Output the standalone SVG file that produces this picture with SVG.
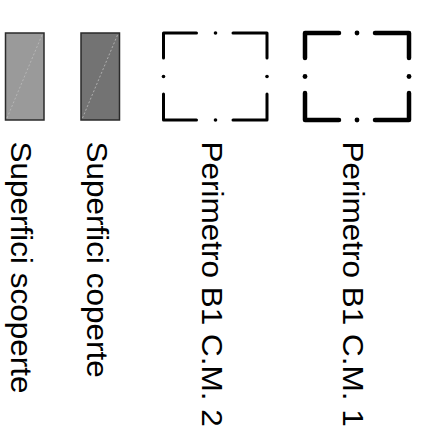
<svg xmlns="http://www.w3.org/2000/svg" width="425" height="433" viewBox="0 0 425 433">
<style>
.sw{stroke:#2a2a2a;stroke-width:1.5}
.diag{stroke:#bdbdbd;stroke-width:0.8;stroke-dasharray:2 2;fill:none}
.per{fill:none;stroke:#000;stroke-linecap:round;stroke-linejoin:round}
.lbl{font-family:"Liberation Sans",Arial,sans-serif;font-size:30px;fill:#000}
</style>
<rect width="425" height="433" fill="#fff"/>
<g id="legend-scoperte">
<rect class="sw" x="5.5" y="33" width="38.5" height="87" fill="#9a9a9a"/>
<line class="diag" x1="7" y1="118" x2="42" y2="35"/>
<text class="lbl" transform="translate(11,141.5) rotate(90) scale(1.05,1)">Superfici scoperte</text>
</g>
<g id="legend-coperte">
<rect class="sw" x="81" y="33" width="38.5" height="87" fill="#737373"/>
<line class="diag" x1="82.5" y1="118" x2="117.5" y2="35"/>
<text class="lbl" transform="translate(87,141.5) rotate(90) scale(1.05,1)">Superfici coperte</text>
</g>
<g id="legend-perimetro2">
<path class="per" stroke-width="3" d="M163.5 58V33H196.5M233 33H267V58M163.5 94V120H196.5M233 120H267V94"/>
<g fill="#000"><circle cx="215.5" cy="33" r="1.8"/><circle cx="215.5" cy="120" r="1.8"/><circle cx="163.5" cy="76.5" r="1.8"/><circle cx="267" cy="76.5" r="1.8"/></g>
<text class="lbl" transform="translate(202,141.5) rotate(90) scale(1.05,1)">Perimetro B1 C.M. 2</text>
</g>
<g id="legend-perimetro1">
<path class="per" stroke-width="4.5" d="M305 58V33H339M375 33H409V58M305 93V120H339M375 120H409V93"/>
<g fill="#000"><circle cx="357" cy="33" r="2.4"/><circle cx="357" cy="120" r="2.4"/><circle cx="305" cy="76.5" r="2.4"/><circle cx="409" cy="76.5" r="2.4"/></g>
<text class="lbl" transform="translate(343,141.5) rotate(90) scale(1.05,1)">Perimetro B1 C.M. 1</text>
</g>
</svg>
